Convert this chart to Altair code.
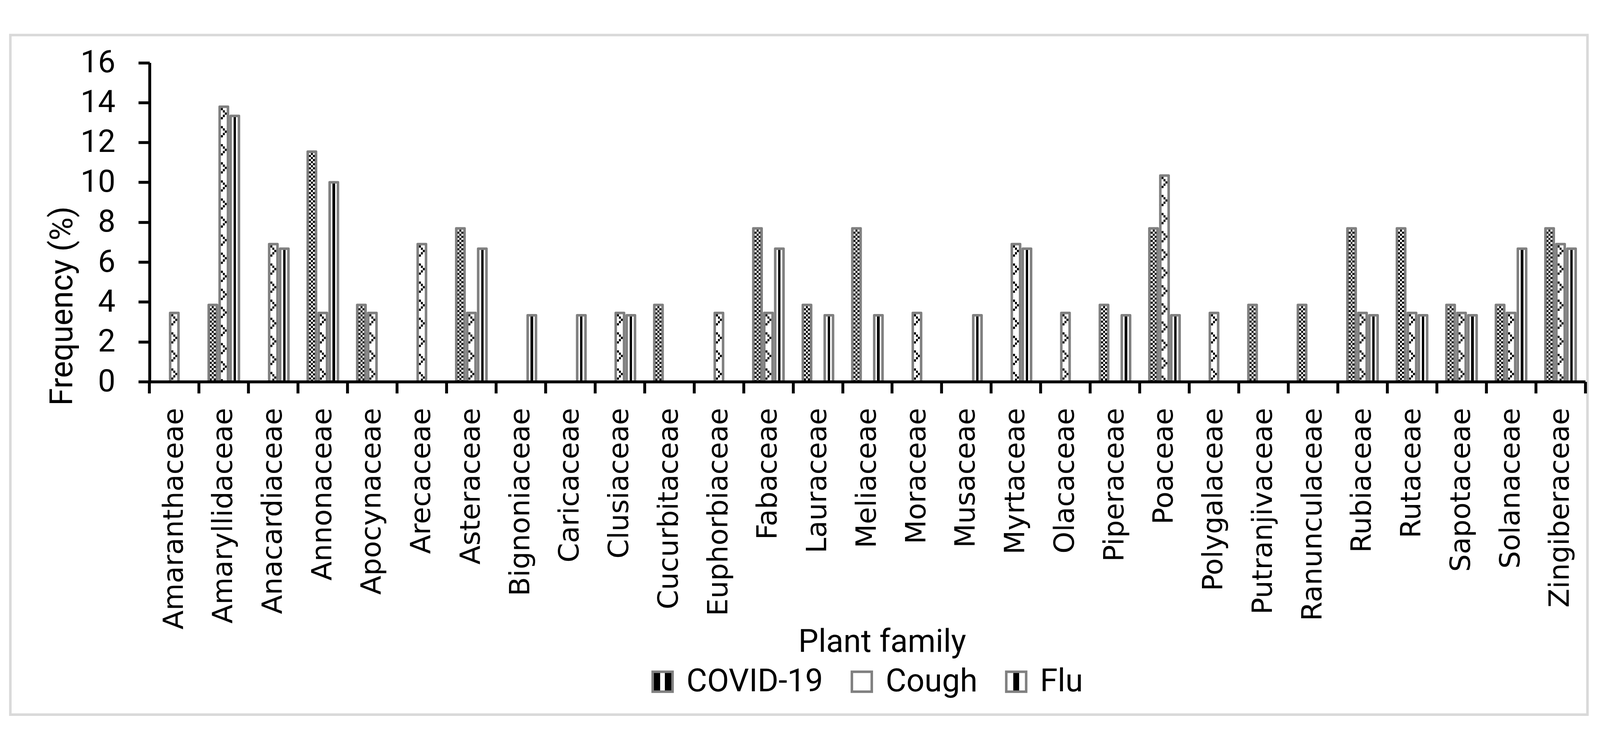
import altair as alt
import pandas as pd

families = ["Amaranthaceae", "Amaryllidaceae", "Anacardiaceae", "Annonaceae", "Apocynaceae",
            "Arecaceae", "Asteraceae", "Bignoniaceae", "Caricaceae", "Clusiaceae",
            "Cucurbitaceae", "Euphorbiaceae", "Fabaceae", "Lauraceae", "Meliaceae",
            "Moraceae", "Musaceae", "Myrtaceae", "Olacaceae", "Piperaceae", "Poaceae",
            "Polygalaceae", "Putranjivaceae", "Ranunculaceae", "Rubiaceae", "Rutaceae",
            "Sapotaceae", "Solanaceae", "Zingiberaceae"]
series = ["COVID-19", "Cough", "Flu"]
covid = [0, 3.85, 0, 11.54, 3.85, 0, 7.69, 0, 0, 0, 3.85, 0, 7.69, 3.85, 7.69,
         0, 0, 0, 0, 3.85, 7.69, 0, 3.85, 3.85, 7.69, 7.69, 3.85, 3.85, 7.69]
cough = [3.45, 13.79, 6.9, 3.45, 3.45, 6.9, 3.45, 0, 0, 3.45, 0, 3.45, 3.45, 0, 0,
         3.45, 0, 6.9, 3.45, 0, 10.34, 3.45, 0, 0, 3.45, 3.45, 3.45, 3.45, 6.9]
flu = [0, 13.33, 6.67, 10.0, 0, 0, 6.67, 3.33, 3.33, 3.33, 0, 0, 6.67, 3.33, 3.33,
       0, 3.33, 6.67, 0, 3.33, 3.33, 0, 0, 0, 3.33, 3.33, 3.33, 6.67, 6.67]
y_ticks = [0, 2, 4, 6, 8, 10, 12, 14, 16]

rows = []
for i, fam in enumerate(families):
    for s, vals in zip(series, [covid, cough, flu]):
        rows.append({"family": fam, "series": s, "value": vals[i]})
df = pd.DataFrame(rows)


def linear(stops):
    parts = ",".join("{offset:%s,color:'%s'}" % (o, c) for o, c in stops)
    return alt.ExprRef(expr="{gradient:'linear',x1:0,y1:0,x2:1,y2:0,stops:[%s]}" % parts)


covid_fill = linear([(0, "#000"), (0.384, "#000"), (0.384, "#fff"), (0.616, "#fff"),
                     (0.616, "#000"), (1, "#000")])
cough_fill = alt.ExprRef(expr="'#ffffff'")
flu_fill = linear([(0, "#fff"), (0.35, "#fff"), (0.35, "#000"), (0.65, "#000"),
                   (0.65, "#fff"), (1, "#fff")])

x_enc = alt.X(
    "family:N", sort=families,
    scale=alt.Scale(domain=families, range=[385, 4356], paddingInner=0, paddingOuter=0),
    axis=alt.Axis(
        title="Plant family", titleFont="Roboto", titleFontSize=88, titleFontWeight="normal",
        titleColor="black", titleX=2411, titleY=747, titleAlign="center",
        titleBaseline="alphabetic", titleAngle=0,
        labelFont="DejaVu Sans", labelFontSize=77, labelAngle=270, labelAlign="right",
        labelBaseline="middle", labelPadding=40, labelColor="black", labelLimit=2000,
        labelOverlap=False, domainColor="black", domainWidth=8, tickColor="black",
        tickWidth=8, tickSize=32, bandPosition=1, tickExtra=True, offset=-921,
        zindex=1, grid=False),
)
y_enc = alt.Y(
    "value:Q",
    scale=alt.Scale(domain=[0, 16], range=[959, 76.5], nice=False),
    axis=alt.Axis(
        title="Frequency (%)", values=y_ticks, titleFont="Roboto", titleFontSize=88,
        titleFontWeight="normal", titleColor="black", titleAngle=270, titleX=-214,
        titleY=749, titleAlign="center", titleBaseline="alphabetic",
        labelFont="Roboto", labelFontSize=86, labelColor="black", labelPadding=64,
        domainColor="black", domainWidth=8, tickColor="black", tickWidth=8,
        tickSize=31, offset=-385, grid=False, zindex=1),
)
xoff_enc = alt.XOffset("series:N", sort=series,
                       scale=alt.Scale(domain=series, paddingInner=0.24, paddingOuter=0.8795))

base = alt.Chart(df)

bars = base.mark_bar(stroke="#808080", strokeWidth=7, strokeJoin="round").encode(
    x=x_enc, xOffset=xoff_enc, y=y_enc,
    fill=alt.Fill("series:N", sort=series,
                  scale=alt.Scale(domain=series, range=[covid_fill, cough_fill, flu_fill]),
                  legend=alt.Legend(title=None, orient="none", legendX=1760, legendY=1745,
                                    direction="horizontal", symbolType="square",
                                    symbolSize=3025, symbolStrokeColor="#808080",
                                    symbolStrokeWidth=7, labelFont="Roboto",
                                    labelFontSize=88, labelColor="black", labelOffset=22,
                                    columnPadding=63, labelLimit=2000, padding=0)),
).transform_filter(alt.datum.value > 0)

covid_checks = base.mark_rule(color="white", strokeWidth=16, strokeDash=[5.7, 5.7],
                              blend="difference", yOffset=3.5).encode(
    x=x_enc, xOffset=xoff_enc, y=y_enc, y2=alt.datum(0)
).transform_filter((alt.datum.series == "COVID-19") & (alt.datum.value > 0))


def cough_col(dx, dash, dash_off):
    return base.mark_rule(color="black", strokeWidth=5.33, strokeDash=dash,
                          strokeDashOffset=dash_off, xOffset=dx, yOffset=3.5).encode(
        x=x_enc, y=y_enc, y2=alt.datum(0)
    ).transform_filter((alt.datum.series == "Cough") & (alt.datum.value > 0))


c0 = cough_col(-5.33, [6.25, 18.75], 0)
c1 = cough_col(0, [6.25, 6.25, 6.25, 31.25], 43.75)
c2 = cough_col(5.33, [6.25, 43.75], 37.5)

chart = alt.layer(bars, covid_checks, c0, c1, c2).properties(
    width=4362, height=1880,
    autosize=alt.AutoSizeParams(type="none"),
    padding={"left": 20, "top": 12, "right": 26, "bottom": 4},
    background="white",
).configure_view(stroke="#d9d9d9", strokeWidth=7, fill="white")

chart.save("out.html", embed_options={"renderer": "svg", "actions": False})
